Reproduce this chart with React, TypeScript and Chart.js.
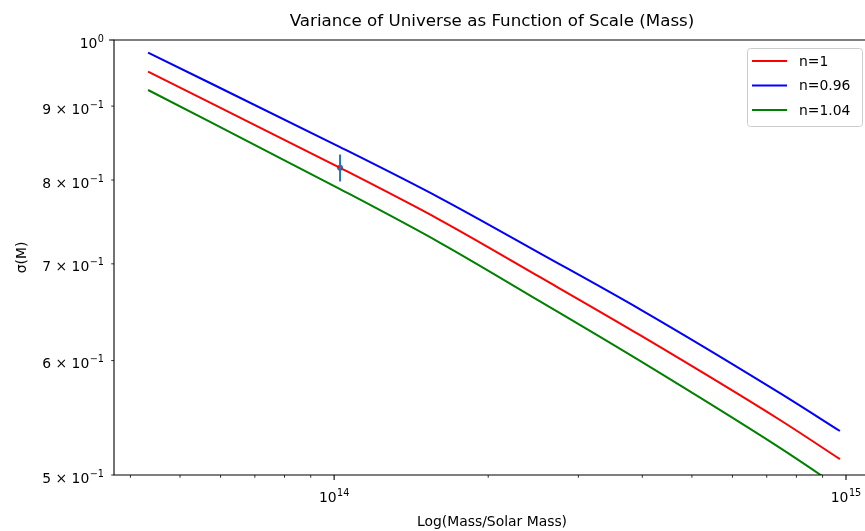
import React, { useEffect, useRef } from "react";
import { Chart, registerables } from "chart.js";

Chart.register(...registerables);

// ---- data ----
const massValues = [4.33e13, 1.027e14, 1.611e14, 2.525e14, 3.96e14, 7.43e14, 9.73e14];
const sigmaN1 = [0.9507, 0.8157, 0.7506, 0.6853, 0.6248, 0.5458, 0.5128];
const sigmaN096 = [0.98, 0.8432, 0.7774, 0.7119, 0.6511, 0.5697, 0.5363];
const sigmaN104 = [0.9234, 0.7886, 0.7239, 0.6594, 0.5997, 0.5221, 0.4898];
const seriesLabels = ["n=1", "n=0.96", "n=1.04"];
const seriesColors = ["#ff0000", "#0000ff", "#008000"];

const obsMass = [1.027e14];
const obsSigma = [0.8157];
const obsSigmaErr = [0.0175];

const xMajorTicks = [1e14, 1e15];
const xMajorLabels = [["10", "14"], ["10", "15"]];
const xMinorTicks = [4e13, 5e13, 6e13, 7e13, 8e13, 9e13, 2e14, 3e14, 4e14, 5e14, 6e14, 7e14, 8e14, 9e14];
const yMajorTicks = [1];
const yMajorLabels = [["10", "0"]];
const yMinorTicks = [0.9, 0.8, 0.7, 0.6, 0.5];
const yMinorLabels = [
  ["9 × 10", "−1"],
  ["8 × 10", "−1"],
  ["7 × 10", "−1"],
  ["6 × 10", "−1"],
  ["5 × 10", "−1"],
];

const titleText = "Variance of Universe as Function of Scale (Mass)";
const xTitle = "Log(Mass/Solar Mass)";
const yTitle = "σ(M)";

const FONT = "'DejaVu Sans', sans-serif";

function drawSci(ctx: CanvasRenderingContext2D, base: string, exp: string, x: number, baseline: number, align: "center" | "right") {
  ctx.font = `13.9px ${FONT}`;
  const wb = ctx.measureText(base).width;
  ctx.font = `9.7px ${FONT}`;
  const we = ctx.measureText(exp).width;
  const total = wb + we + 0.5;
  const left = align === "center" ? x - total / 2 : x - total;
  ctx.textAlign = "left";
  ctx.textBaseline = "alphabetic";
  ctx.font = `13.9px ${FONT}`;
  ctx.fillText(base, left, baseline);
  ctx.font = `9.7px ${FONT}`;
  ctx.fillText(exp, left + wb + 0.5, baseline - 6);
}

const decorPlugin = {
  id: "decor",
  afterDatasetsDraw(chart: any) {
    const ctx: CanvasRenderingContext2D = chart.ctx;
    const xs = chart.scales.x;
    const ys = chart.scales.y;
    ctx.save();
    ctx.strokeStyle = "#1f77b4";
    ctx.lineWidth = 2;
    for (let i = 0; i < obsMass.length; i++) {
      const px = xs.getPixelForValue(obsMass[i]);
      const pt = ys.getPixelForValue(obsSigma[i] + obsSigmaErr[i]);
      const pb = ys.getPixelForValue(obsSigma[i] - obsSigmaErr[i]);
      ctx.beginPath();
      ctx.moveTo(px, pt);
      ctx.lineTo(px, pb);
      ctx.stroke();
    }
    ctx.restore();
  },
  afterDraw(chart: any) {
    const ctx: CanvasRenderingContext2D = chart.ctx;
    const a = chart.chartArea;
    const xs = chart.scales.x;
    const ys = chart.scales.y;
    ctx.save();
    ctx.fillStyle = "#000";
    ctx.strokeStyle = "#000";
    ctx.lineWidth = 1.1;
    // left, top and bottom spines (right spine lies beyond the crop)
    ctx.beginPath();
    ctx.moveTo(880, a.top);
    ctx.lineTo(a.left, a.top);
    ctx.lineTo(a.left, a.bottom);
    ctx.lineTo(880, a.bottom);
    ctx.stroke();
    const tick = (x1: number, y1: number, x2: number, y2: number, w: number) => {
      ctx.lineWidth = w;
      ctx.beginPath();
      ctx.moveTo(x1, y1);
      ctx.lineTo(x2, y2);
      ctx.stroke();
    };
    xMajorTicks.forEach((v, i) => {
      const px = xs.getPixelForValue(v);
      tick(px, a.bottom, px, a.bottom + 4.9, 1.1);
      drawSci(ctx, xMajorLabels[i][0], xMajorLabels[i][1], px, 502, "center");
    });
    xMinorTicks.forEach((v) => {
      const px = xs.getPixelForValue(v);
      tick(px, a.bottom, px, a.bottom + 2.8, 0.8);
    });
    yMajorTicks.forEach((v, i) => {
      const py = ys.getPixelForValue(v);
      tick(a.left, py, a.left - 4.9, py, 1.1);
      drawSci(ctx, yMajorLabels[i][0], yMajorLabels[i][1], a.left - 10, py + 7.5, "right");
    });
    yMinorTicks.forEach((v, i) => {
      const py = ys.getPixelForValue(v);
      tick(a.left, py, a.left - 2.8, py, 0.8);
      drawSci(ctx, yMinorLabels[i][0], yMinorLabels[i][1], a.left - 10, py + 7.5, "right");
    });
    const cx = 492;
    ctx.textAlign = "center";
    ctx.textBaseline = "alphabetic";
    ctx.font = `16.7px ${FONT}`;
    ctx.fillText(titleText, cx, 25.5);
    ctx.font = `13.9px ${FONT}`;
    ctx.fillText(xTitle, cx, 526);
    ctx.save();
    ctx.translate(26, (a.top + a.bottom) / 2);
    ctx.rotate(-Math.PI / 2);
    ctx.fillText(yTitle, 0, 0);
    ctx.restore();
    const lx = 747.5, ly = 48.5, lw = 115, lh = 78, r = 3;
    ctx.beginPath();
    ctx.moveTo(lx + r, ly);
    ctx.lineTo(lx + lw - r, ly);
    ctx.quadraticCurveTo(lx + lw, ly, lx + lw, ly + r);
    ctx.lineTo(lx + lw, ly + lh - r);
    ctx.quadraticCurveTo(lx + lw, ly + lh, lx + lw - r, ly + lh);
    ctx.lineTo(lx + r, ly + lh);
    ctx.quadraticCurveTo(lx, ly + lh, lx, ly + lh - r);
    ctx.lineTo(lx, ly + r);
    ctx.quadraticCurveTo(lx, ly, lx + r, ly);
    ctx.closePath();
    ctx.fillStyle = "rgba(255,255,255,0.8)";
    ctx.fill();
    ctx.strokeStyle = "#cccccc";
    ctx.lineWidth = 1;
    ctx.stroke();
    const ds = chart.data.datasets;
    for (let i = 0; i < 3; i++) {
      const yy = 61 + i * 24.5;
      ctx.strokeStyle = ds[i].borderColor;
      ctx.lineWidth = 2;
      ctx.beginPath();
      ctx.moveTo(752, yy);
      ctx.lineTo(787, yy);
      ctx.stroke();
      ctx.fillStyle = "#000";
      ctx.font = `13.9px ${FONT}`;
      ctx.textAlign = "left";
      ctx.textBaseline = "middle";
      ctx.fillText(ds[i].label, 799, yy + 1);
    }
    ctx.restore();
  },
};

export default function App() {
  const ref = useRef<HTMLCanvasElement | null>(null);
  useEffect(() => {
    if (!ref.current) return;
    const seriesData = [sigmaN1, sigmaN096, sigmaN104];
    const datasets: any[] = seriesData.map((s, k) => ({
      type: "line",
      label: seriesLabels[k],
      data: massValues.map((m, i) => ({ x: m, y: s[i] })),
      borderColor: seriesColors[k],
      backgroundColor: seriesColors[k],
      borderWidth: 2,
      pointRadius: 0,
      cubicInterpolationMode: "monotone",
      fill: false,
    }));
    datasets.push({
      type: "line",
      label: "obs",
      data: obsMass.map((m, i) => ({ x: m, y: obsSigma[i] })),
      showLine: false,
      pointRadius: 3,
      pointBorderWidth: 0,
      backgroundColor: "#1f77b4",
      borderColor: "#1f77b4",
    });
    const chart = new Chart(ref.current, {
      type: "line",
      data: { datasets },
      plugins: [decorPlugin],
      options: {
        responsive: false,
        animation: false,
        devicePixelRatio: 1,
        layout: { padding: { left: 114, top: 40, right: 10, bottom: 56 } },
        plugins: { legend: { display: false }, title: { display: false }, tooltip: { enabled: false } },
        scales: {
          x: { type: "logarithmic", min: 3.715e13, max: 1.114e15, display: false },
          y: { type: "logarithmic", min: 0.5, max: 1.0, display: false },
        },
      } as any,
    });
    return () => chart.destroy();
  }, []);
  return (
    <div style={{ position: "fixed", left: 0, top: 0, width: 865, height: 531, overflow: "hidden", background: "#fff" }}>
      <canvas ref={ref} width={880} height={531} style={{ width: 880, height: 531, display: "block" }} />
    </div>
  );
}
